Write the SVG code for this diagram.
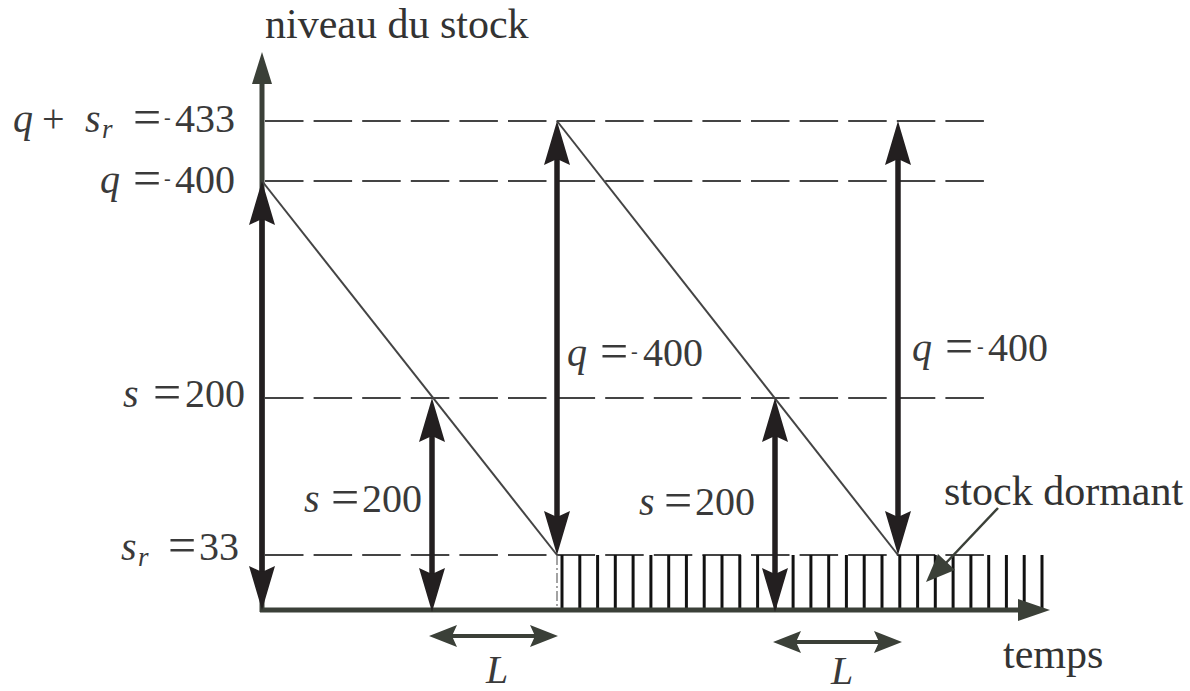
<svg xmlns="http://www.w3.org/2000/svg" width="1190" height="691" viewBox="0 0 1190 691">
<style>
.t{font-family:"Liberation Serif","Times New Roman",serif;font-size:42px;fill:#333}
.m{font-family:"Liberation Serif","Times New Roman",serif;font-size:40px;fill:#3a3a3a}
.i{font-style:italic}
.sub{font-style:italic;font-size:27px}
.tk{font-size:20px}
.eq{font-size:50px}
.dash{stroke:#444;stroke-width:2;stroke-dasharray:38.5 10.1;fill:none}
.axis{stroke:#3b4038;stroke-width:5;fill:none}
.thick{stroke:#231f20;stroke-width:5.5;fill:none}
.thin{stroke:#444;stroke-width:2;fill:none}
.hatch{stroke:#111;stroke-width:3}
.lar{stroke:#3b4038;stroke-width:4;fill:none}
</style>
<defs>
<path id="head" d="M0,0 L13,44 L0,38 L-13,44 Z" fill="#231f20"/>
<path id="lhead" d="M0,0 L28,-11 L23,0 L28,11 Z" fill="#3b4038"/>
</defs>
<g id="grid">
<line class="dash" x1="265" y1="121" x2="990" y2="121"/>
<line class="dash" x1="265" y1="181" x2="990" y2="181"/>
<line class="dash" x1="265" y1="398" x2="990" y2="398"/>
<line class="dash" x1="265" y1="555" x2="990" y2="555"/>
</g>
<g id="hatch" class="hatch">
<line x1="562" y1="555" x2="562" y2="610"/><line x1="579.8" y1="555" x2="579.8" y2="610"/><line x1="597.6" y1="555" x2="597.6" y2="610"/><line x1="615.3" y1="555" x2="615.3" y2="610"/><line x1="633.1" y1="555" x2="633.1" y2="610"/><line x1="650.9" y1="555" x2="650.9" y2="610"/><line x1="668.7" y1="555" x2="668.7" y2="610"/><line x1="686.4" y1="555" x2="686.4" y2="610"/><line x1="704.2" y1="555" x2="704.2" y2="610"/><line x1="722" y1="555" x2="722" y2="610"/><line x1="739.8" y1="555" x2="739.8" y2="610"/><line x1="757.6" y1="555" x2="757.6" y2="610"/><line x1="775.3" y1="555" x2="775.3" y2="610"/><line x1="793.1" y1="555" x2="793.1" y2="610"/><line x1="810.9" y1="555" x2="810.9" y2="610"/><line x1="828.7" y1="555" x2="828.7" y2="610"/><line x1="846.4" y1="555" x2="846.4" y2="610"/><line x1="864.2" y1="555" x2="864.2" y2="610"/><line x1="882" y1="555" x2="882" y2="610"/><line x1="899.8" y1="555" x2="899.8" y2="610"/><line x1="917.6" y1="555" x2="917.6" y2="610"/><line x1="935.3" y1="555" x2="935.3" y2="610"/><line x1="953.1" y1="555" x2="953.1" y2="610"/><line x1="970.9" y1="555" x2="970.9" y2="610"/><line x1="988.7" y1="555" x2="988.7" y2="610"/><line x1="1006.4" y1="555" x2="1006.4" y2="610"/><line x1="1024.2" y1="555" x2="1024.2" y2="610"/><line x1="1042" y1="555" x2="1042" y2="610"/>
<line x1="557" y1="555" x2="557" y2="610" stroke="#666" stroke-width="1.2" stroke-dasharray="10 3 2 3"/>
</g>
<g id="axes">
<line class="axis" x1="262" y1="612" x2="262" y2="78"/>
<polygon points="262,52 272,84 252,84" fill="#3b4038"/>
<line class="axis" x1="260" y1="610" x2="1024" y2="610"/>
<polygon points="1050,610 1018,599 1018,621" fill="#3b4038"/>
</g>
<g id="connectors">
<line class="thin" x1="262" y1="181" x2="557" y2="555"/>
<line class="thin" x1="557" y1="121" x2="898" y2="555"/>
<line class="thick" x1="262" y1="215" x2="262" y2="575"/>
<use href="#head" x="262" y="181"/>
<use href="#head" transform="translate(262,610) rotate(180)"/>
<line class="thick" x1="432" y1="430" x2="432" y2="580"/>
<use href="#head" x="432" y="398"/>
<use href="#head" transform="translate(432,612) rotate(180)"/>
<line class="thick" x1="557" y1="155" x2="557" y2="520"/>
<use href="#head" x="557" y="121"/>
<use href="#head" transform="translate(557,555) rotate(180)"/>
<line class="thick" x1="775" y1="430" x2="775" y2="580"/>
<use href="#head" x="775" y="398"/>
<use href="#head" transform="translate(775,612) rotate(180)"/>
<line class="thick" x1="898" y1="155" x2="898" y2="520"/>
<use href="#head" x="898" y="121"/>
<use href="#head" transform="translate(898,555) rotate(180)"/>
<line class="lar" x1="452" y1="636" x2="537" y2="636"/>
<use href="#lhead" x="429" y="636"/>
<use href="#lhead" transform="translate(558,636) rotate(180)"/>
<line class="lar" x1="795" y1="642" x2="880" y2="642"/>
<use href="#lhead" x="773" y="642"/>
<use href="#lhead" transform="translate(902,642) rotate(180)"/>
<line stroke="#3b4038" stroke-width="2.5" x1="998" y1="508" x2="945" y2="564"/>
<polygon points="926,582 938,554 955,570" fill="#3b4038"/>
</g>
<g id="labels">
<text class="t" x="265" y="38">niveau du stock</text>
<text class="t" x="1003" y="668">temps</text>
<text class="t" x="944" y="505">stock dormant</text>
<text class="m" y="132"><tspan class="i" x="13">q</tspan><tspan x="42">+</tspan><tspan class="i" x="85">s</tspan><tspan class="sub" x="102" dy="6">r</tspan><tspan class="eq" x="133" dy="-4">=</tspan><tspan class="tk" x="164" dy="-10">-</tspan><tspan x="175" dy="8">433</tspan></text>
<text class="m" y="193"><tspan class="i" x="100">q</tspan><tspan class="eq" x="133" dy="2">=</tspan><tspan class="tk" x="164" dy="-10">-</tspan><tspan x="175" dy="8">400</tspan></text>
<text class="m" y="407"><tspan class="i" x="123">s</tspan><tspan class="eq" x="153" dy="2">=</tspan><tspan x="185" dy="-2">200</tspan></text>
<text class="m" y="560"><tspan class="i" x="121">s</tspan><tspan class="sub" x="138" dy="6">r</tspan><tspan class="eq" x="168" dy="-4">=</tspan><tspan x="199" dy="-2">33</tspan></text>
<text class="m" y="512"><tspan class="i" x="304">s</tspan><tspan class="eq" x="331" dy="2">=</tspan><tspan x="362" dy="-2">200</tspan></text>
<text class="m" y="515"><tspan class="i" x="639">s</tspan><tspan class="eq" x="664" dy="2">=</tspan><tspan x="695" dy="-2">200</tspan></text>
<text class="m" y="366"><tspan class="i" x="567">q</tspan><tspan class="eq" x="600" dy="2">=</tspan><tspan class="tk" x="631" dy="-10">-</tspan><tspan x="643" dy="8">400</tspan></text>
<text class="m" y="361"><tspan class="i" x="912">q</tspan><tspan class="eq" x="945" dy="2">=</tspan><tspan class="tk" x="977" dy="-10">-</tspan><tspan x="988" dy="8">400</tspan></text>
<text class="m i" x="486" y="683">L</text>
<text class="m i" x="831" y="684">L</text>
</g>
</svg>
